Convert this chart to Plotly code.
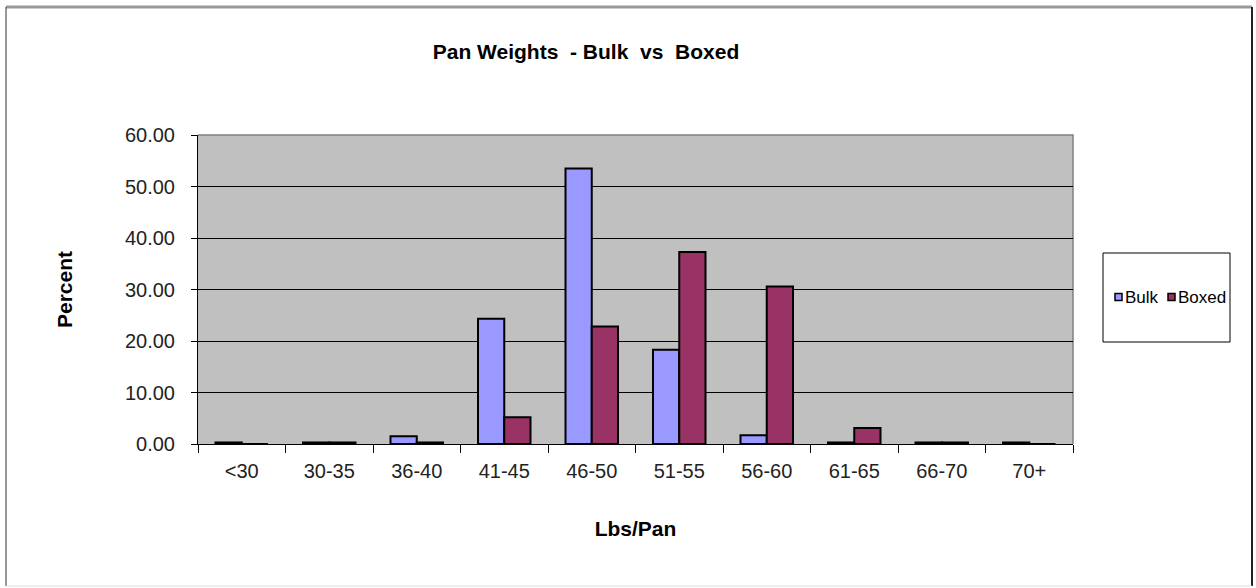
import plotly.graph_objects as go

categories = ["<30", "30-35", "36-40", "41-45", "46-50", "51-55", "56-60", "61-65", "66-70", "70+"]
bulk = [0.3, 0.3, 1.5, 24.3, 53.5, 18.3, 1.7, 0.3, 0.3, 0.3]
boxed = [0.0, 0.3, 0.3, 5.2, 22.8, 37.3, 30.6, 3.1, 0.3, 0.0]
y_ticks = [0, 10, 20, 30, 40, 50, 60]

series_names = ["Bulk", "Boxed"]
series_colors = ["#9999ff", "#993366"]

W, H = 1256, 588
L, R, T, B = 198, 1073, 135, 444


def px(x):
    return (x - L) / (R - L)


def py(y):
    return (B - y) / (B - T)


font = dict(family="Arial, Liberation Sans, sans-serif", color="black")

fig = go.Figure()
for name, vals, col in zip(series_names, [bulk, boxed], series_colors):
    fig.add_trace(go.Bar(name=name, x=categories, y=vals, showlegend=False,
                         marker=dict(color=col, line=dict(color="black", width=2))))

shapes = [
    # grey border along the top and right of the plot area
    dict(type="path", xref="paper", yref="paper",
         path="M 0 1 L 1 1 L 1 0", line=dict(color="#808080", width=1.5), layer="below"),
    # legend frame
    dict(type="rect", xref="paper", yref="paper",
         x0=px(1103), x1=px(1230), y0=py(342), y1=py(253),
         line=dict(color="black", width=1), fillcolor="white", layer="below"),
    # outer frame edges
    dict(type="line", xref="paper", yref="paper",
         x0=px(6), x1=px(1252), y0=py(7), y1=py(7),
         line=dict(color="#999999", width=3)),
    dict(type="line", xref="paper", yref="paper",
         x0=px(6), x1=px(6), y0=py(7), y1=py(586),
         line=dict(color="#333333", width=1)),
    dict(type="line", xref="paper", yref="paper",
         x0=px(1252), x1=px(1252), y0=py(7), y1=py(586),
         line=dict(color="#222222", width=2)),
    dict(type="line", xref="paper", yref="paper",
         x0=px(6), x1=px(1252), y0=py(586), y1=py(586),
         line=dict(color="#dddddd", width=1)),
]

# legend: small swatch followed by the series name
annotations = []
legend_x = [1115, 1168]
for name, col, x0 in zip(series_names, series_colors, legend_x):
    shapes.append(dict(type="rect", xref="paper", yref="paper",
                       x0=px(x0), x1=px(x0 + 7), y0=py(300.5), y1=py(293.5),
                       line=dict(color="black", width=1.5), fillcolor=col))
    annotations.append(dict(text=name, xref="paper", yref="paper",
                            x=px(x0 + 8), y=py(297), xanchor="left", yanchor="middle",
                            showarrow=False, font=dict(size=17, **font)))

fig.update_layout(
    width=W, height=H,
    margin=dict(l=L, r=W - R, t=T, b=H - B, autoexpand=False),
    paper_bgcolor="white",
    plot_bgcolor="#c0c0c0",
    barmode="group",
    bargap=0.4,
    bargroupgap=0,
    showlegend=False,
    font=dict(size=20, **font),
    title=dict(text="<b>Pan Weights  - Bulk  vs  Boxed</b>", x=586 / W, xanchor="center",
               y=1 - 52 / H, yanchor="middle", font=dict(size=21, **font)),
    xaxis=dict(
        type="category", tickson="boundaries", ticks="outside", ticklen=8,
        tickcolor="black", showline=True, linecolor="black", linewidth=1,
        showgrid=False, tickfont=dict(size=20, color="#222222", family=font["family"]),
        ticklabelstandoff=9,
        title=dict(text="<b>Lbs/Pan</b>", font=dict(size=21, **font), standoff=40),
    ),
    yaxis=dict(
        range=[0, 60], tickvals=y_ticks, tickformat=".2f", ticks="outside",
        ticklen=6, tickcolor="black", showline=True, linecolor="black", linewidth=1,
        showgrid=True, gridcolor="black", gridwidth=1, zeroline=False,
        tickfont=dict(size=20, color="#222222", family=font["family"]),
        ticklabelstandoff=12,
        title=dict(text="<b>Percent</b>", font=dict(size=21, **font), standoff=46),
    ),
    shapes=shapes,
    annotations=annotations,
)

fig.write_html("out.html")
